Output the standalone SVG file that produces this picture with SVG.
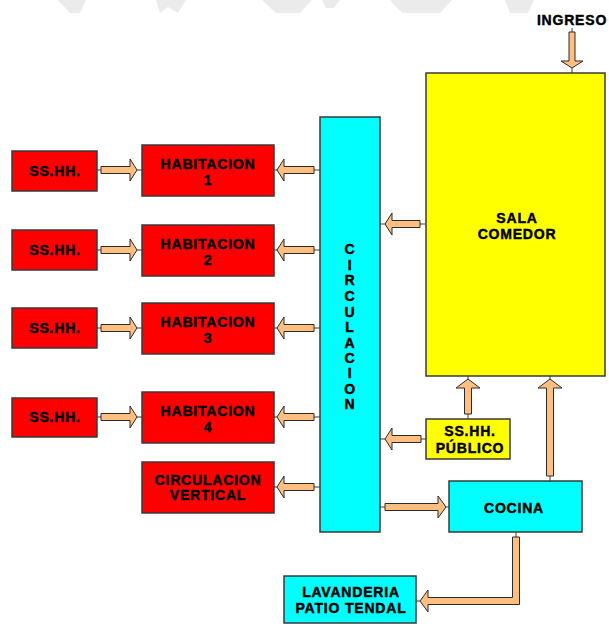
<svg xmlns="http://www.w3.org/2000/svg" width="609" height="624" viewBox="0 0 609 624">
  <style>
    .box { stroke: #3a3a3a; stroke-width: 1.5; }
    .red { fill: #ff0000; }
    .cyan { fill: #00ffff; }
    .yellow { fill: #ffff00; }
    .arrow { fill: #ffbf80; stroke: #2a2a2a; stroke-width: 1; stroke-linejoin: miter; }
    .link { stroke: #3a3a3a; stroke-width: 1; fill: none; }
    .label { font-family: "Liberation Sans", Arial, sans-serif; font-weight: bold; font-size: 14px; letter-spacing: 0.8px; fill: #000; stroke: #000; stroke-width: 0.45; text-anchor: middle; }
    .mark { fill: #ebebeb; }
  </style>

  <rect width="609" height="624" fill="#ffffff"/>

  <!-- faint background emblem along the top edge -->
  <g id="emblem">
    <polygon class="mark" points="58,0 86,0 80,13 70,13"/>
    <polygon class="mark" points="156,0 186,0 178,13 168,7 160,13"/>
    <polygon class="mark" points="262,0 312,0 300,13 276,13"/>
    <polygon class="mark" points="322,0 340,0 334,8 326,8"/>
    <polygon class="mark" points="390,0 452,0 440,13 402,13"/>
    <polygon class="mark" points="505,0 534,0 528,13 510,13"/>
  </g>

  <!-- connectors -->
  <g id="connectors">
    <!-- SS.HH. to HABITACION -->
    <path class="link" d="M97,170 H101 M137,170 H142 M97,250 H101 M137,250 H142 M97,328 H101 M137,328 H142 M97,417 H101 M137,417 H142"/>
    <polygon class="arrow" points="101,166.5 130,166.5 130,159 137,170 130,181 130,173.5 101,173.5"/>
    <polygon class="arrow" points="101,246.5 130,246.5 130,239 137,250 130,261 130,253.5 101,253.5"/>
    <polygon class="arrow" points="101,324.5 130,324.5 130,317 137,328 130,339 130,331.5 101,331.5"/>
    <polygon class="arrow" points="101,413.5 130,413.5 130,406 137,417 130,428 130,420.5 101,420.5"/>

    <!-- CIRCULACION to rooms -->
    <path class="link" d="M274,170 H277 M314,170 H320 M274,250 H277 M314,250 H320 M274,328 H277 M314,328 H320 M274,417 H277 M314,417 H320 M274,487 H277 M314,487 H320"/>
    <polygon class="arrow" points="314,166.5 284,166.5 284,159 277,170 284,181 284,173.5 314,173.5"/>
    <polygon class="arrow" points="314,246.5 284,246.5 284,239 277,250 284,261 284,253.5 314,253.5"/>
    <polygon class="arrow" points="314,324.5 284,324.5 284,317 277,328 284,339 284,331.5 314,331.5"/>
    <polygon class="arrow" points="314,413.5 284,413.5 284,406 277,417 284,428 284,420.5 314,420.5"/>
    <polygon class="arrow" points="314,483.5 284,483.5 284,476 277,487 284,498 284,490.5 314,490.5"/>

    <!-- SALA COMEDOR to CIRCULACION -->
    <path class="link" d="M380,224 H385 M420,224 H426"/>
    <polygon class="arrow" points="420,220.5 392,220.5 392,213 385,224 392,235 392,227.5 420,227.5"/>

    <!-- SS.HH. PUBLICO to CIRCULACION -->
    <path class="link" d="M380,439 H385 M421,439 H426"/>
    <polygon class="arrow" points="421,435.5 392,435.5 392,428 385,439 392,450 392,442.5 421,442.5"/>

    <!-- CIRCULACION to COCINA -->
    <path class="link" d="M380,507 H385 M446,507 H449"/>
    <polygon class="arrow" points="385,503.5 438,503.5 438,496 446,507 438,518 438,510.5 385,510.5"/>

    <!-- SS.HH. PUBLICO to SALA COMEDOR -->
    <path class="link" d="M468,419 V414 M468,379 V376"/>
    <polygon class="arrow" points="464.5,414 464.5,388 456,388 468,379 480,388 471.5,388 471.5,414"/>

    <!-- COCINA to SALA COMEDOR -->
    <path class="link" d="M550,481 V476 M550,379 V376"/>
    <polygon class="arrow" points="546.5,476 546.5,388 538,388 550,379 562,388 553.5,388 553.5,476"/>

    <!-- INGRESO to SALA COMEDOR -->
    <path class="link" d="M572,28 V32 M572,68 V73"/>
    <polygon class="arrow" points="569,32 575,32 575,61 583,61 572,68 561,61 569,61"/>

    <!-- COCINA to LAVANDERIA -->
    <path class="link" d="M516,532 V537 M420,601 H416"/>
    <polygon class="arrow" points="512.5,537 519.5,537 519.5,604.5 428,604.5 428,612 420,601 428,590 428,597.5 512.5,597.5"/>
  </g>

  <!-- bathrooms -->
  <g id="sshh-1"><rect class="box red" x="12" y="151" width="85" height="40"/><text class="label" x="55" y="176">SS.HH.</text></g>
  <g id="sshh-2"><rect class="box red" x="12" y="230" width="85" height="40"/><text class="label" x="55" y="255">SS.HH.</text></g>
  <g id="sshh-3"><rect class="box red" x="12" y="308" width="85" height="40"/><text class="label" x="55" y="333">SS.HH.</text></g>
  <g id="sshh-4"><rect class="box red" x="12" y="398" width="85" height="39"/><text class="label" x="55" y="422">SS.HH.</text></g>

  <!-- rooms -->
  <g id="habitacion-1"><rect class="box red" x="142" y="145" width="132" height="51"/><text class="label" x="208" y="169">HABITACION</text><text class="label" x="208" y="185">1</text></g>
  <g id="habitacion-2"><rect class="box red" x="142" y="225" width="132" height="51"/><text class="label" x="208" y="249">HABITACION</text><text class="label" x="208" y="265">2</text></g>
  <g id="habitacion-3"><rect class="box red" x="142" y="303" width="132" height="51"/><text class="label" x="208" y="327">HABITACION</text><text class="label" x="208" y="343">3</text></g>
  <g id="habitacion-4"><rect class="box red" x="142" y="392" width="132" height="51"/><text class="label" x="208" y="416">HABITACION</text><text class="label" x="208" y="432">4</text></g>
  <g id="circulacion-vertical"><rect class="box red" x="142" y="462" width="132" height="51"/><text class="label" x="208" y="485">CIRCULACION</text><text class="label" x="208" y="500">VERTICAL</text></g>

  <!-- corridor -->
  <g id="circulacion">
    <rect class="box cyan" x="320" y="117" width="60" height="415"/>
    <text class="label" x="350" y="254">C</text>
    <text class="label" x="350" y="270">I</text>
    <text class="label" x="350" y="285">R</text>
    <text class="label" x="350" y="301">C</text>
    <text class="label" x="350" y="317">U</text>
    <text class="label" x="350" y="332">L</text>
    <text class="label" x="350" y="348">A</text>
    <text class="label" x="350" y="363">C</text>
    <text class="label" x="350" y="378">I</text>
    <text class="label" x="350" y="394">O</text>
    <text class="label" x="350" y="409">N</text>
  </g>

  <!-- living / dining -->
  <g id="sala-comedor">
    <rect class="box yellow" x="426" y="73" width="179" height="303"/>
    <text class="label" x="517" y="223">SALA</text>
    <text class="label" x="517" y="239">COMEDOR</text>
  </g>

  <g id="ingreso"><text class="label" x="572" y="25">INGRESO</text></g>

  <g id="sshh-publico">
    <rect class="box yellow" x="426" y="419" width="84" height="40"/>
    <text class="label" x="470" y="436">SS.HH.</text>
    <text class="label" x="470" y="453">PÚBLICO</text>
  </g>

  <g id="cocina">
    <rect class="box cyan" x="449" y="481" width="133" height="51"/>
    <text class="label" x="514" y="513">COCINA</text>
  </g>

  <g id="lavanderia">
    <rect class="box cyan" x="284" y="576" width="132" height="47"/>
    <text class="label" x="351" y="597">LAVANDERIA</text>
    <text class="label" x="351" y="613">PATIO TENDAL</text>
  </g>
</svg>
